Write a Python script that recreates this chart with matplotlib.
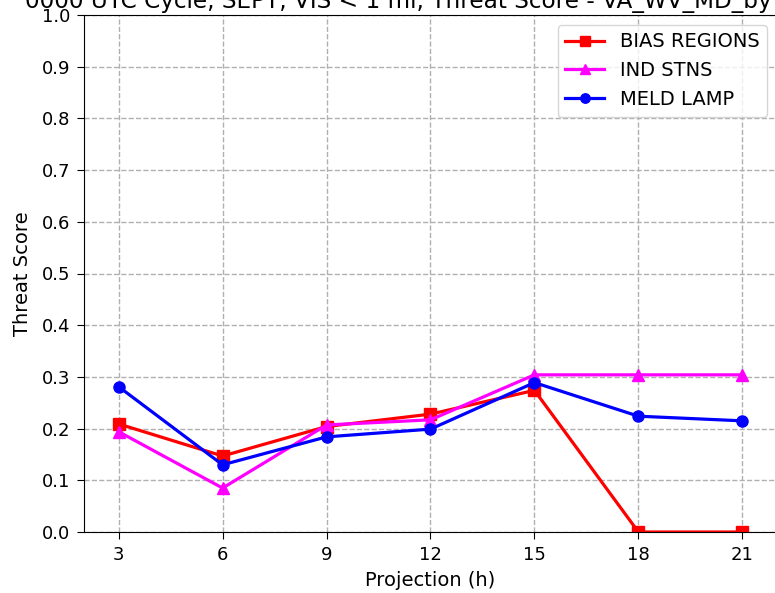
import matplotlib
matplotlib.use("Agg")
import matplotlib.pyplot as plt

projections = [3, 6, 9, 12, 15, 18, 21]
bias_regions = [0.209, 0.147, 0.204, 0.228, 0.274, 0.0, 0.0]
ind_stns = [0.194, 0.085, 0.207, 0.217, 0.304, 0.304, 0.304]
meld_lamp = [0.281, 0.130, 0.184, 0.199, 0.289, 0.224, 0.215]
title = "0000 UTC Cycle, SEPT, VIS < 1 mi, Threat Score - VA_WV_MD_by"

W, H = 775, 593
fig = plt.figure(figsize=(W / 100, H / 100), dpi=100)
ax = fig.add_axes([84 / W, (H - 532) / H, (777 - 84) / W, (532 - 15) / H])

ax.plot(projections, bias_regions, color="red", marker="s", lw=2.3, ms=8, label="BIAS REGIONS")
ax.plot(projections, ind_stns, color="magenta", marker="^", lw=2.3, ms=8, label="IND STNS")
ax.plot(projections, meld_lamp, color="blue", marker="o", lw=2.3, ms=8, label="MELD LAMP")

ax.set_xlim(2, 22)
ax.set_ylim(0, 1.0)
ax.set_xticks(projections)
ax.set_yticks([i / 10 for i in range(11)])
ax.tick_params(labelsize=13, length=5, pad=5)
ax.grid(True, linestyle="--", color="#b0b0b0", lw=1)
ax.set_xlabel("Projection (h)", fontsize=14, labelpad=5)
ax.set_ylabel("Threat Score", fontsize=14, labelpad=7)
ax.legend(loc="upper right", fontsize=14, markerscale=0.85)
fig.text(25 / W, (H - 8) / H, title, fontsize=16.7, ha="left", va="baseline")

fig.savefig("out.png", dpi=100)
